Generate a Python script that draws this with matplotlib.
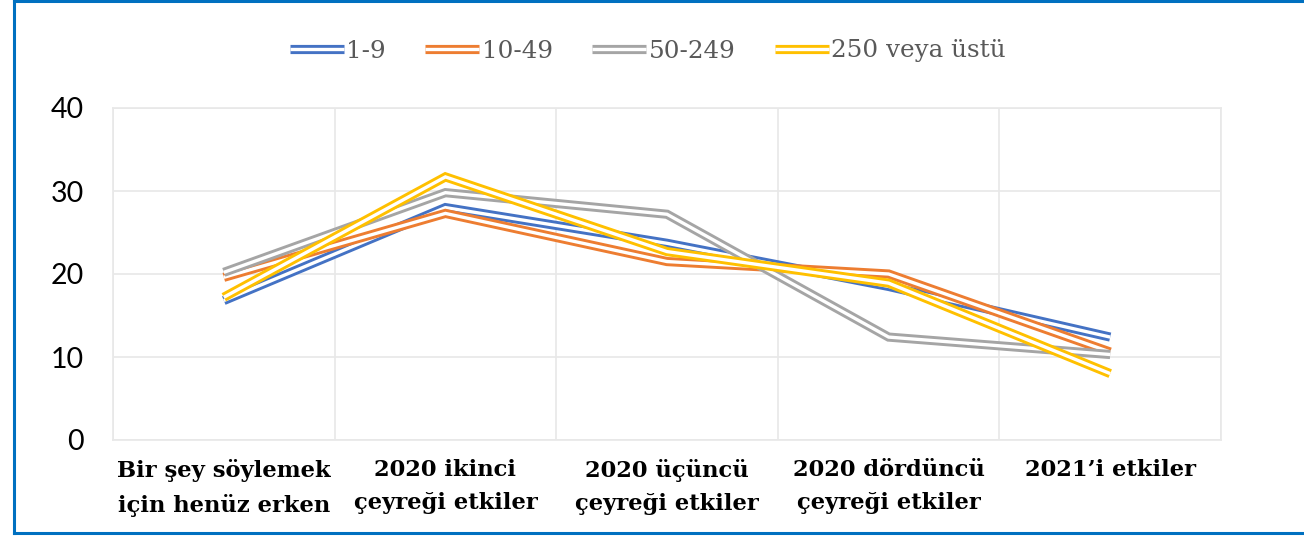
import matplotlib
matplotlib.use("Agg")
import matplotlib.pyplot as plt
import matplotlib.patheffects as pe
from matplotlib.lines import Line2D

categories = ["Bir şey söylemek\niçin henüz erken",
              "2020 ikinci\nçeyreği etkiler",
              "2020 üçüncü\nçeyreği etkiler",
              "2020 dördüncü\nçeyreği etkiler",
              "2021’i etkiler"]
series_names = ["1-9", "10-49", "50-249", "250 veya üstü"]
s_1_9 = [16.8, 28.0, 23.7, 18.5, 12.4]
s_10_49 = [19.6, 27.3, 21.5, 20.0, 10.6]
s_50_249 = [20.2, 29.8, 27.2, 12.4, 10.3]
s_250 = [17.2, 31.7, 22.7, 18.9, 8.0]
yticks = [0, 10, 20, 30, 40]
colors = ["#4472C4", "#ED7D31", "#A5A5A5", "#FFC000"]

fig = plt.figure(figsize=(13.04, 5.36), dpi=100)
ax = fig.add_axes([113/1304, 1-440/536, (1221-113)/1304, (440-108)/536])

x = list(range(len(categories)))
for vals, name, c in zip([s_1_9, s_10_49, s_50_249, s_250], series_names, colors):
    ax.plot(x, vals, color=c, lw=6.6, label=name, solid_joinstyle="miter",
            solid_capstyle="butt",
            path_effects=[pe.Stroke(linewidth=6.6, foreground=c),
                          pe.Stroke(linewidth=2.4, foreground="white")])

ax.set_xlim(-0.5, len(categories) - 0.5)
ax.set_ylim(0, 40)
ax.set_yticks(yticks)
ax.set_yticklabels([str(v) for v in yticks], fontsize=20.5, family="Lato", color="black")
ax.set_xticks(x)
ax.set_xticklabels(categories, fontsize=16.3, family="DejaVu Serif", fontweight="bold",
                   color="black", linespacing=1.65)
ax.set_xticks([i - 0.5 for i in range(len(categories) + 1)], minor=True)
ax.tick_params(axis="both", which="both", length=0)
ax.tick_params(axis="y", pad=21)
ax.tick_params(axis="x", pad=14)
ax.grid(True, axis="y", which="major", color="#E8E8E8", lw=1.2)
ax.grid(True, axis="x", which="minor", color="#E8E8E8", lw=1.2)
ax.set_axisbelow(True)
for s in ax.spines.values():
    s.set_color("#E8E8E8")
    s.set_linewidth(1.2)

leg = fig.legend(loc="center", bbox_to_anchor=(648/1304, 1-51/536), ncol=4, frameon=False,
                 prop={"family": "DejaVu Serif", "size": 17.7}, handlelength=2.2,
                 handletextpad=0.1, columnspacing=1.6)
for t in leg.get_texts():
    t.set_color("#595959")

# blue frame (left, top, bottom edges visible)
frame_c = "#0070C0"
fx0, fy0, fy1 = 14/1304, 3/536, 1 - 1/536
fig.add_artist(Line2D([fx0, fx0], [fy0, fy1], transform=fig.transFigure, color=frame_c, lw=2.2))
fig.add_artist(Line2D([fx0, 1.0], [fy1, fy1], transform=fig.transFigure, color=frame_c, lw=2.2))
fig.add_artist(Line2D([fx0, 1.0], [fy0, fy0], transform=fig.transFigure, color=frame_c, lw=2.2))

fig.savefig("out.png", dpi=100)
